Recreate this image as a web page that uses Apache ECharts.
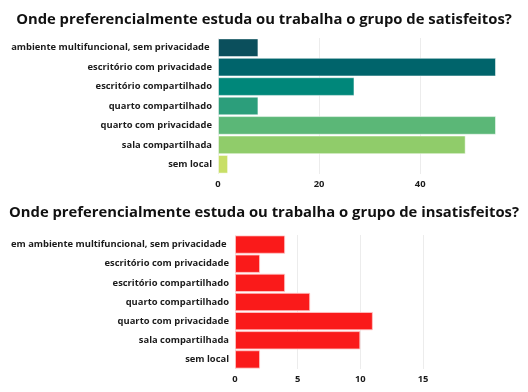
<!DOCTYPE html>
<html><head><meta charset="utf-8">
<script src="https://cdn.jsdelivr.net/npm/echarts@6/dist/echarts.min.js"></script>
<style>html,body{margin:0;padding:0;background:#fff}#c{width:528px;height:392px}</style>
</head><body><div id="c"></div>
<script>
var catsSat = ['ambiente multifuncional, sem privacidade ', 'escritório com privacidade', 'escritório compartilhado', 'quarto compartilhado', 'quarto com privacidade', 'sala compartilhada', 'sem local'];
var valsSat = [8, 55, 27, 8, 55, 49, 2];
var colorsSat = ['#0b4f5c', '#00646b', '#00877a', '#2c9e7b', '#5bb777', '#90cc6a', '#c8df66'];
var catsIns = ['em ambiente multifuncional, sem privacidade ', 'escritório com privacidade', 'escritório compartilhado', 'quarto compartilhado', 'quarto com privacidade', 'sala compartilhada', 'sem local'];
var valsIns = [4, 2, 4, 6, 11, 10, 2];
var titleSat = 'Onde preferencialmente estuda ou trabalha o grupo de satisfeitos?';
var titleIns = 'Onde preferencialmente estuda ou trabalha o grupo de insatisfeitos?';

var font = 'Open Sans';
var chart = echarts.init(document.getElementById('c'));
var labelStyle = {color: '#1a1a1a', fontFamily: font, fontWeight: 'bold', fontSize: 9.4};
chart.setOption({
  animation: false,
  title: [
    {text: titleSat, left: 'center', top: 7, textStyle: {fontFamily: font, fontWeight: 'bold', fontSize: 14.8, color: '#111'}},
    {text: titleIns, left: 'center', top: 200, textStyle: {fontFamily: font, fontWeight: 'bold', fontSize: 14.8, color: '#111'}}
  ],
  grid: [
    {left: 218, right: 32, top: 38, height: 136, outerBoundsMode: 'none', containLabel: false},
    {left: 235, right: 105, top: 235, height: 134, outerBoundsMode: 'none', containLabel: false}
  ],
  xAxis: [
    {gridIndex: 0, type: 'value', min: 0, max: 55, interval: 20,
     axisLine: {show: false}, axisTick: {show: false},
     axisLabel: Object.assign({showMaxLabel: false, margin: 6}, labelStyle),
     splitLine: {showMaxLine: false, lineStyle: {color: '#ececec'}}},
    {gridIndex: 1, type: 'value', min: 0, max: 15, interval: 5,
     axisLine: {show: false}, axisTick: {show: false},
     axisLabel: Object.assign({margin: 6}, labelStyle),
     splitLine: {lineStyle: {color: '#ececec'}}}
  ],
  yAxis: [
    {gridIndex: 0, type: 'category', data: catsSat, inverse: true,
     axisLine: {show: false}, axisTick: {show: false},
     axisLabel: Object.assign({margin: 6}, labelStyle)},
    {gridIndex: 1, type: 'category', data: catsIns, inverse: true,
     axisLine: {show: false}, axisTick: {show: false},
     axisLabel: Object.assign({margin: 6}, labelStyle)}
  ],
  series: [
    {type: 'bar', xAxisIndex: 0, yAxisIndex: 0, barCategoryGap: '4%',
     data: valsSat.map(function (v, i) { return {value: v, itemStyle: {color: colorsSat[i]}}; }),
     itemStyle: {borderColor: 'rgba(255,255,255,0.5)', borderWidth: 1}},
    {type: 'bar', xAxisIndex: 1, yAxisIndex: 1, barCategoryGap: '4%',
     data: valsIns,
     itemStyle: {color: '#fa1a1a', borderColor: 'rgba(255,200,200,0.8)', borderWidth: 1}}
  ]
});
</script></body></html>
